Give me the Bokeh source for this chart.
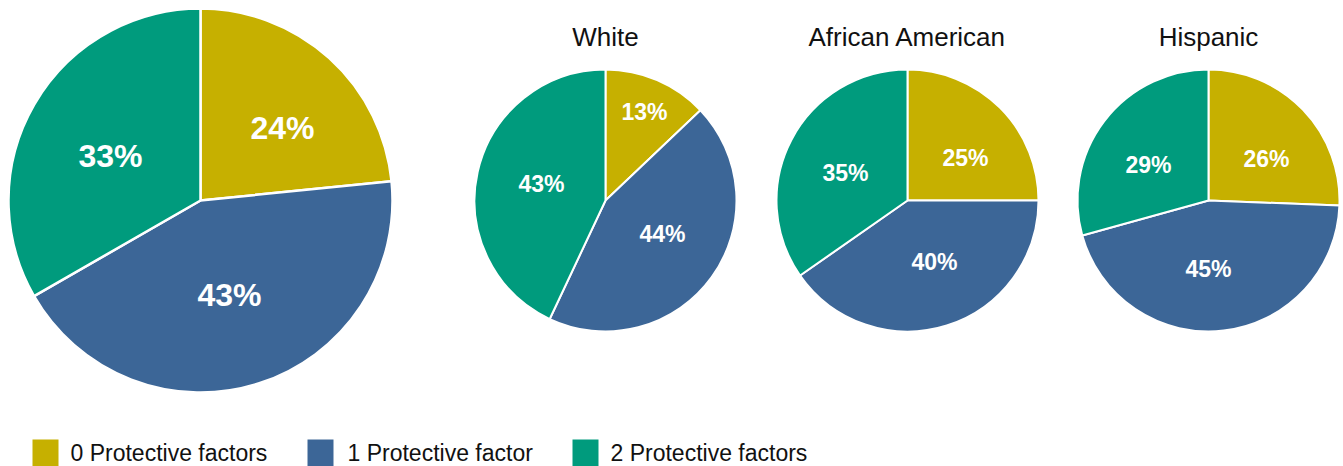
import math
import numpy as np
from bokeh.plotting import figure
from bokeh.models import Range1d, ColumnDataSource
from bokeh.core.properties import value
from bokeh.embed import file_html
from bokeh.resources import INLINE

# ---- data ----
categories = ["0 Protective factors", "1 Protective factor", "2 Protective factors"]
colors = ["#C6B000", "#3C6697", "#009B7D"]
groups = ["", "White", "African American", "Hispanic"]
# slice shares as drawn
all_youth = [23.4, 43.3, 33.3]
white = [12.9, 44.1, 43.0]
african_american = [25.0, 40.3, 34.7]
hispanic = [25.6, 45.1, 29.3]
# printed percentage labels
all_youth_labels = ["24%", "43%", "33%"]
white_labels = ["13%", "44%", "43%"]
african_american_labels = ["25%", "40%", "35%"]
hispanic_labels = ["26%", "45%", "29%"]

series = [all_youth, white, african_american, hispanic]
series_labels = [all_youth_labels, white_labels, african_american_labels, hispanic_labels]

# ---- layout (screen px) ----
W, H = 1343, 466
pies = [  # (cx, cy, r, label font px, border width)
    (200, 200, 192, 32, 2.5),
    (605, 200, 131, 23, 2),
    (907, 200, 131, 23, 2),
    (1208, 200, 131, 23, 2),
]

p = figure(width=W, height=H, x_range=Range1d(0, W), y_range=Range1d(0, H),
           output_backend="svg", toolbar_location=None,
           x_axis_type=None, y_axis_type=None, min_border=0)
p.outline_line_color = None
p.grid.visible = False
p.background_fill_color = "white"
p.border_fill_color = "white"

FONT = value("Liberation Sans")


def sy(y):
    return H - y


def place_label(r, b0, b1, w, h):
    """Point inside the wedge (bearings b0..b1, clockwise from 12 o'clock)
    where a w x h label box has the largest clearance to the edges."""
    g = np.arange(-r, r + 0.5, 1.0)
    X, Y = np.meshgrid(g, g)
    n0 = (math.cos(b0), -math.sin(b0))
    n1 = (-math.cos(b1), math.sin(b1))
    clear = np.full(X.shape, np.inf)
    for ox, oy in [(-w / 2, -h / 2), (w / 2, -h / 2), (-w / 2, h / 2), (w / 2, h / 2)]:
        px, py = X + ox, Y + oy
        c = np.minimum(px * n0[0] + py * n0[1], px * n1[0] + py * n1[1])
        c = np.minimum(c, r - np.hypot(px, py))
        clear = np.minimum(clear, c)
    i = np.unravel_index(np.argmax(clear), clear.shape)
    return X[i], Y[i]


for (cx, cy, r, fs, bw), vals, labs, title in zip(pies, series, series_labels, groups):
    total = float(sum(vals))
    starts, ends, lx, ly = [], [], [], []
    b = 0.0
    for v, lab in zip(vals, labs):
        a = v / total * 2 * math.pi
        b0, b1 = b, b + a
        starts.append(math.pi / 2 - b1)
        ends.append(math.pi / 2 - b0)
        dx, dy = place_label(r, b0, b1, 0.67 * fs * len(lab), 0.72 * fs)
        lx.append(cx + dx)
        ly.append(sy(cy) + dy)
        b = b1
    src = ColumnDataSource(dict(start=starts, end=ends, color=colors,
                                x=[cx] * 3, y=[sy(cy)] * 3))
    p.wedge(x="x", y="y", radius=r, start_angle="start", end_angle="end",
            fill_color="color", line_color="white", line_width=bw, source=src)
    p.text(x=lx, y=ly, text=labs, text_align="center", text_baseline="middle",
           text_color="white", text_font=FONT, text_font_style="bold",
           text_font_size=f"{fs}px")
    if title:
        p.text(x=[cx], y=[sy(36)], text=[title], text_align="center",
               text_baseline="middle", text_color="#111111", text_font=FONT,
               text_font_size="26px")

# ---- legend ----
leg_sq_x = [32, 307, 572]
leg_txt_x = [70, 347, 610]
p.rect(x=[x + 13 for x in leg_sq_x], y=[sy(452.5)] * 3, width=26, height=27,
       fill_color=colors, line_color=None)
p.text(x=leg_txt_x, y=[sy(452)] * 3, text=categories, text_align="left",
       text_baseline="middle", text_color="#111111", text_font=FONT,
       text_font_size="23px")

open("out.html", "w").write(file_html(p, INLINE))
